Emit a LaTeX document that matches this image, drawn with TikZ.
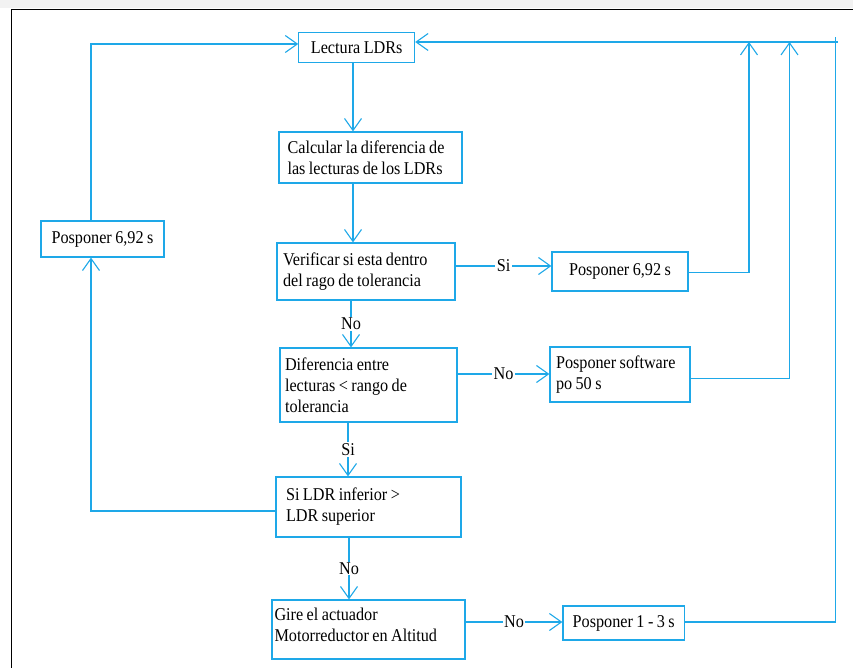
\documentclass[tikz,border=0pt]{standalone}
\usepackage{fontspec}
\setmainfont{Liberation Serif}[FakeStretch=0.9,WordSpace=0.85]
\usetikzlibrary{arrows.meta}
\definecolor{flow}{RGB}{30,168,232}
\begin{document}
\begin{tikzpicture}[x=1pt,y=-1pt,
  box/.style={draw=flow,line width=1.2pt,inner ysep=0pt,text=black,font=\fontsize{18}{21}\selectfont,
    execute at begin node={\spaceskip=0pt\xspaceskip=0pt\relax}},
  link/.style={draw=flow,line width=1.1pt},
  arr/.style={link,-{Straight Barb[length=12pt,width=17pt]}},
  lbl/.style={fill=white,text=black,inner xsep=1.5pt,inner ysep=1pt,font=\fontsize{18}{21}\selectfont}]
\useasboundingbox (0,0) rectangle (853,668);
\fill[gray!10] (0,0) rectangle (853,8.5);
\draw[black,line width=1.3pt] (11.3,668) -- (11.3,9.5) -- (853,9.5);

\node[box,minimum width=115.8pt,minimum height=30.4pt,align=center] (lect) at (356.7,47.6) {Lectura LDRs};
\node[box,minimum width=183pt,minimum height=51pt,inner xsep=8.5pt,text width=166pt,align=left] (calc) at (370.5,157.5) {Calcular la diferencia de\\las lecturas de los LDRs};
\node[box,minimum width=178pt,minimum height=57pt,inner xsep=6pt,text width=166pt,align=left] (ver) at (366,271.5) {Verificar si esta dentro\\del rago de tolerancia};
\node[box,minimum width=136pt,minimum height=39pt,align=center] (pos1) at (620,271.5) {Posponer 6,92 s};
\node[box,minimum width=177pt,minimum height=74pt,inner xsep=5pt,text width=167pt,align=left] (dif) at (368.5,385) {Diferencia entre\\lecturas < rango de\\tolerancia};
\node[box,minimum width=140pt,minimum height=55pt,inner xsep=6pt,text width=128pt,align=left] (possw) at (620,374.5) {Posponer software\\po 50 s};
\node[box,minimum width=185pt,minimum height=60pt,inner xsep=10pt,text width=165pt,align=left] (sildr) at (368.5,507) {Si LDR inferior >\\LDR superior};
\node[box,minimum width=193pt,minimum height=59pt,inner xsep=2.5pt,text width=188pt,align=left] (gire) at (368.5,629.5) {Gire el actuador\\Motorreductor en Altitud\\[-12pt]\mbox{}};
\node[box,minimum width=121.5pt,minimum height=34pt,align=center] (pos13) at (623.7,623) {Posponer 1 - 3 s};
\node[box,minimum width=123pt,minimum height=36pt,align=center] (posL) at (102.5,239) {Posponer 6,92 s};

\coordinate (xa) at (353,0);
\coordinate (xb) at (351,0);
\coordinate (xc) at (348,0);
\coordinate (xd) at (349,0);
\coordinate (ya) at (0,266);
\coordinate (yb) at (0,374);
\coordinate (yc) at (0,622);
\coordinate (yd) at (0,272.7);
\coordinate (ye) at (0,378.3);
\coordinate (r1) at (749,42);
\coordinate (r2) at (789.5,42);
\coordinate (r3) at (835.5,36.7);
\coordinate (rend) at (837.5,42);
\coordinate (l1) at (91,511);
\coordinate (l2) at (91,44);

\draw[arr] (lect.south -| xa) -- (calc.north -| xa);
\draw[arr] (calc.south -| xa) -- (ver.north -| xa);
\draw[arr] (ver.south -| xb) -- node[lbl]{No} (dif.north -| xb);
\draw[arr] (dif.south -| xc) -- node[lbl]{Si} (sildr.north -| xc);
\draw[arr] (sildr.south -| xd) -- node[lbl]{No} (gire.north -| xd);
\draw[arr] (ver.east |- ya) -- node[lbl]{Si} (pos1.west |- ya);
\draw[arr] (dif.east |- yb) -- node[lbl]{No} (possw.west |- yb);
\draw[arr] (gire.east |- yc) -- node[lbl]{No} (pos13.west |- yc);
\draw[arr] (pos1.east |- yd) -| (r1);
\draw[arr] (possw.east |- ye) -| (r2);
\draw[link] (pos13.east |- yc) -| (r3);
\draw[arr] (rend) -- (lect.east |- rend);
\draw[arr] (sildr.west |- l1) -| (posL.south -| l1);
\draw[arr] (posL.north -| l2) |- (lect.west |- l2);
\end{tikzpicture}
\end{document}
